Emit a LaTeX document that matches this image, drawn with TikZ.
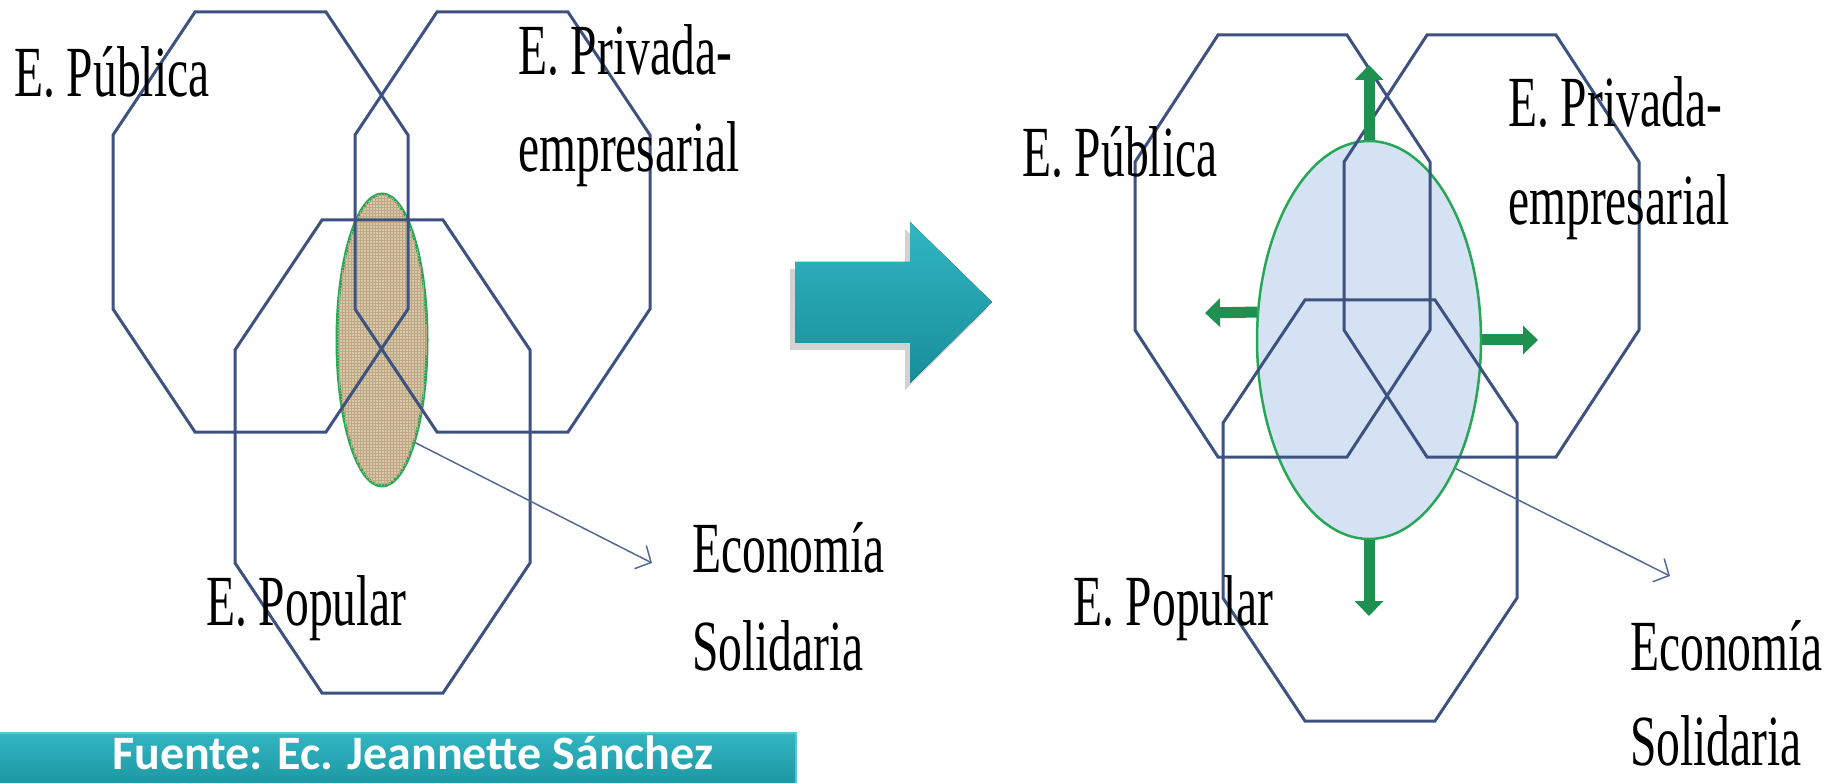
\documentclass[tikz,border=0pt]{standalone}
\usepackage{fontspec}
\usepackage{tikz}
\usetikzlibrary{shapes.geometric,arrows.meta,shadows,patterns}
\newfontfamily\labelfont{Liberation Serif}[FakeStretch=0.66]
\newfontfamily\srcfont{Carlito}
\definecolor{octblue}{RGB}{61,82,128}
\definecolor{ringgreen}{RGB}{38,166,86}
\definecolor{arrowgreen}{RGB}{30,145,80}
\definecolor{tealtop}{RGB}{50,182,194}
\definecolor{tealbot}{RGB}{22,142,154}
\definecolor{tealedge}{RGB}{92,196,204}
\definecolor{sandfill}{RGB}{218,200,170}
\definecolor{sandgrid}{RGB}{190,168,132}
\definecolor{skyfill}{RGB}{212,226,243}
\definecolor{leadline}{RGB}{85,105,150}

\begin{document}
\begin{tikzpicture}[x=1pt,y=-1pt]
\tikzstyle{octa} = [draw=octblue, line width=3pt, line join=miter]
\tikzstyle{core} = [ellipse, draw=ringgreen, line width=3pt, inner sep=0pt]
\tikzstyle{lbl} = [font=\labelfont\fontsize{72}{86}\selectfont, inner sep=0pt, anchor=base west]
\tikzstyle{lead} = [draw=leadline, line width=1.5pt, -{Straight Barb[length=12pt,width=26pt]}]
\tikzstyle{push} = [draw=arrowgreen, line width=11pt, -{Triangle[length=15pt,width=28pt]}]
\clip (0,0) rectangle (1839,783);
\fill[white] (0,0) rectangle (1839,783);

% left: small common area
\node[core, fill=sandfill, postaction={pattern=grid, pattern color=sandgrid}, minimum width=90pt, minimum height=292pt] (coreL) at (382,340) {};
\draw[octa] (195,12) -- (326,12) -- (408,135) -- (408,309) -- (326,432) -- (195,432) -- (113,309) -- (113,135) -- cycle;
\draw[octa] (437,12) -- (568,12) -- (650,135) -- (650,309) -- (568,432) -- (437,432) -- (355,309) -- (355,135) -- cycle;
\draw[octa] (322,220) -- (443,220) -- (530,350) -- (530,563) -- (443,693) -- (322,693) -- (235,563) -- (235,350) -- cycle;
\node[lbl] (pubL) at (14,97) {E. Pública};
\node[lbl] (privL) at (518,75) {E. Privada-};
\node[lbl] (empL) at (518,172) {empresarial};
\node[lbl] (popL) at (206,625) {E. Popular};
\node[lbl] (ecoL) at (692,572) {Economía};
\node[lbl] (solL) at (692,670) {Solidaria};
\coordinate (tipL) at (652,563);
\draw[lead] (coreL.-72) -- (tipL);

% middle arrow
\fill[top color=tealtop, bottom color=tealbot, drop shadow={shadow xshift=-5pt, shadow yshift=-7pt, opacity=.35}]
 (795,262) -- (910,262) -- (910,222) -- (992,302) -- (910,383) -- (910,343) -- (795,343) -- cycle;

% right: grown common area
\node[core, fill=skyfill, line width=2.5pt, minimum width=224pt, minimum height=398pt] (coreR) at (1369,340) {};
\draw[octa] (1218,35) -- (1347,35) -- (1430,162) -- (1430,330) -- (1347,457) -- (1218,457) -- (1135,330) -- (1135,162) -- cycle;
\draw[octa] (1427,35) -- (1556,35) -- (1639,162) -- (1639,330) -- (1556,457) -- (1427,457) -- (1344,330) -- (1344,162) -- cycle;
\draw[octa] (1305,300) -- (1435,300) -- (1517,423) -- (1517,598) -- (1435,721) -- (1305,721) -- (1223,598) -- (1223,423) -- cycle;
\coordinate (upR) at (1369,65);
\coordinate (leftR) at (1205,313);
\coordinate (rightR) at (1538,340);
\coordinate (downR) at (1369,616);
\draw[push] (coreR.north) -- (upR);
\draw[push] (coreR.166) -- (leftR);
\draw[push] (coreR.east) -- (rightR);
\draw[push] (coreR.south) -- (downR);
\node[lbl] (pubR) at (1022,177) {E. Pública};
\node[lbl] (privR) at (1508,127) {E. Privada-};
\node[lbl] (empR) at (1508,225) {empresarial};
\node[lbl] (popR) at (1073,625) {E. Popular};
\node[lbl] (ecoR) at (1630,670) {Economía};
\node[lbl] (solR) at (1630,765) {Solidaria};
\coordinate (tipR) at (1670,576);
\draw[lead] (coreR.-56) -- (tipR);

% source band
\fill[top color=tealtop, bottom color=tealbot, draw=tealedge, line width=2pt] (-5,733) rectangle (796,800);
\node[font=\srcfont\bfseries\fontsize{48}{56}\selectfont, text=white, inner sep=0pt, anchor=base west] (src) at (112,769) {Fuente: Ec. Jeannette Sánchez};
\end{tikzpicture}
\end{document}
